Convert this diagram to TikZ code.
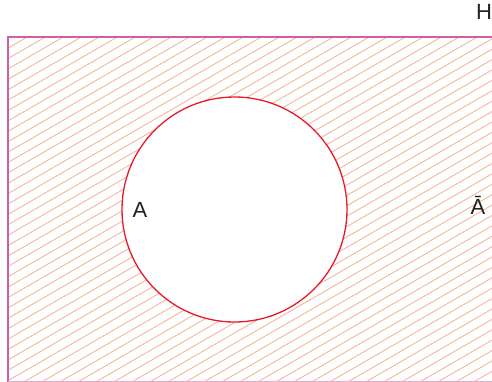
\documentclass[tikz,border=0pt]{standalone}
\usepackage{fontspec}
\setmainfont{Liberation Sans}
\definecolor{hatchc}{HTML}{F7B49A}
\definecolor{framec}{HTML}{CC5FA6}
\definecolor{circc}{HTML}{E8192C}
\definecolor{textc}{HTML}{222222}
\tikzset{
  hatchline/.style={draw=hatchc, line width=0.9pt},
  frameline/.style={draw=framec, line width=1.4pt},
  setcircle/.style={draw=circc, line width=1.3pt, fill=white},
  lbl/.style={text=textc, font=\fontsize{22}{24}\selectfont, inner sep=0pt, anchor=base}
}
\begin{document}
\begin{tikzpicture}[x=1pt,y=-1pt]
\useasboundingbox (0,0) rectangle (492,382);
\begin{scope}
  \clip (8,37) rectangle (494,384);
  \foreach \k in {-2,...,60}{
    \pgfmathsetmacro{\c}{52.8+10.39*\k}
    \draw[hatchline] (0,\c) -- (500,\c-288.7);
  }
\end{scope}
\draw[frameline] (494,37) -- (8,37) -- (8,382);
\draw[draw=framec!50, line width=0.8pt] (8,381.6) -- (494,381.6);
\node[setcircle, circle, minimum size=225pt, inner sep=0pt] (A) at (234.5,209.5) {};
\node[lbl] (la) at (140,217) {A};
\node[lbl] (lab) at (478,214.5) {Ā};
\node[lbl] (lh) at (484,20) {H};
\end{tikzpicture}
\end{document}
